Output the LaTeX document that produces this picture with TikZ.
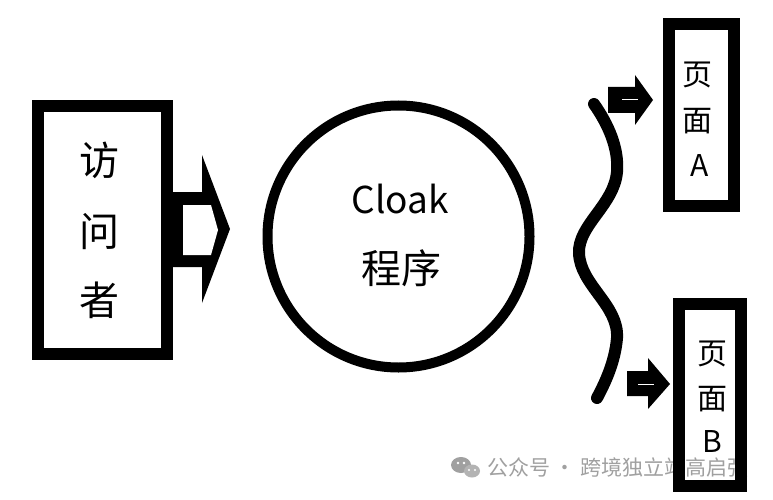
\documentclass[tikz,border=0pt]{standalone}
\usepackage{fontspec}
\setmainfont{Noto Sans CJK SC}
\newfontfamily\cjk{Noto Sans CJK SC}
\begin{document}
\begin{tikzpicture}[x=1pt,y=-1pt]
\tikzset{
  thickbox/.style={draw=black,line width=12pt,rectangle,inner sep=0pt},
  bigtxt/.style={font=\cjk\fontsize{40}{40}\selectfont,inner sep=0pt},
  pagetxt/.style={font=\cjk\fontsize{30}{30}\selectfont,inner sep=0pt},
  wmark/.style={font=\cjk\fontsize{21}{21}\selectfont,text=wmgray,inner sep=0pt,anchor=west},
}
\definecolor{wmgray}{RGB}{160,160,160}
\fill[white] (0,0) rectangle (773,500);
\useasboundingbox (0,0) rectangle (773,500);
\clip (0,0) rectangle (773,500);

% visitor box
\node[thickbox,minimum width=129pt,minimum height=248pt] (vis) at (102.5,230) {};
\node[bigtxt] (v1) at (99,160) {访};
\node[bigtxt] (v2) at (99,232) {问};
\node[bigtxt] (v3) at (99,300) {者};

% big hollow arrow
\fill[black] (173,192) -- (202,192) -- (202,155) -- (230,229) -- (202,303) -- (202,267) -- (173,267) -- cycle;
\fill[white] (183,205) -- (211,205) -- (218,230) -- (211,255) -- (183,255) -- cycle;

% circle
\node[draw=black,line width=10pt,circle,minimum size=262pt,inner sep=0pt] (cl) at (398.5,236.5) {};
\node[font=\cjk\fontsize{37}{37}\selectfont,inner sep=0pt] (t1) at (400,199) {Cloak};
\node[bigtxt] (t2) at (401,268) {程序};

% wave
\draw[line width=12pt,line cap=round] (594,104) .. controls (608,124) and (619,148) .. (617,172)
  .. controls (614,205) and (578,225) .. (579,253)
  .. controls (580,285) and (619,305) .. (617,338)
  .. controls (615,362) and (605,383) .. (597,398);

% small arrows
\fill[black] (608,87) -- (635,87) -- (635,75) -- (653,100) -- (635,125) -- (635,113) -- (608,113) -- cycle;
\draw[white,line width=1pt] (622,100) -- (638,100);
\fill[black] (627,371) -- (648,371) -- (648,358) -- (670,384) -- (648,409) -- (648,396) -- (627,396) -- cycle;
\draw[white,line width=1pt] (638,384) -- (654,384);

% watermark
\fill[wmgray] (461,465) ellipse [x radius=10, y radius=8];
\fill[wmgray!80] (472,471) ellipse [x radius=8, y radius=6.5];
\fill[white] (458,463) circle (1.3) (464,463) circle (1.3) (469,470) circle (1.1) (475,470) circle (1.1);
\node[wmark] (wm) at (487,468) {公众号 · 跨境独立站高启强};

% page A
\node[thickbox,minimum width=65pt,minimum height=182pt] (pa) at (701.5,115) {};
\node[pagetxt] (a1) at (697,75) {页};
\node[pagetxt] (a2) at (697,121) {面};
\node[pagetxt] (a3) at (700,166) {A};

% page B
\node[thickbox,minimum width=62pt,minimum height=182pt] (pb) at (710,395) {};
\node[pagetxt] (b1) at (712,354) {页};
\node[pagetxt] (b2) at (712,399) {面};
\node[pagetxt] (b3) at (712,442) {B};
\end{tikzpicture}
\end{document}
